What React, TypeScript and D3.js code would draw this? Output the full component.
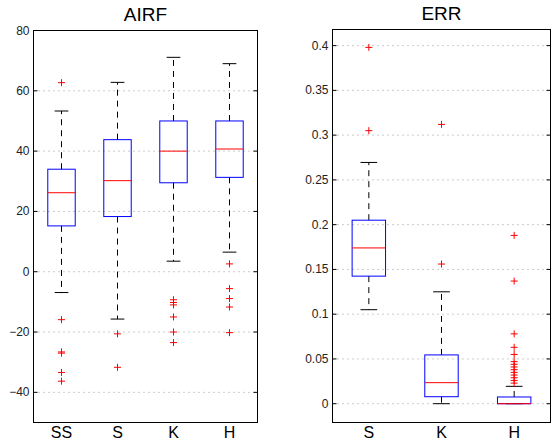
import React, {useEffect, useRef} from 'react';
import * as d3 from 'd3';

// AIRF panel values
const airfCats: string[] = ["SS", "S", "K", "H"];
const airfLow: number[] = [-6.9, -15.7, 3.5, 6.5];
const airfQ1: number[] = [15.2, 18.3, 29.5, 31.3];
const airfMed: number[] = [26.2, 30.2, 40.0, 40.7];
const airfQ3: number[] = [34.0, 43.8, 50.0, 50.0];
const airfHigh: number[] = [53.3, 62.8, 71.1, 69.0];
const airfOut: number[][] = [
  [62.7, -15.9, -26.6, -27.0, -33.4, -36.3],
  [-20.6, -31.7],
  [-9.3, -10.2, -11.0, -15.0, -20.0, -23.5],
  [2.6, -5.6, -8.9, -11.7, -20.2]
];
const airfTicks: number[] = [-40, -20, 0, 20, 40, 60, 80];

// ERR panel values
const errCats: string[] = ["S", "K", "H"];
const errLow: number[] = [0.105, 0, 0];
const errQ1: number[] = [0.1425, 0.0078, 0];
const errMed: number[] = [0.174, 0.0235, 0];
const errQ3: number[] = [0.205, 0.0545, 0.0075];
const errHigh: number[] = [0.2695, 0.125, 0.0194];
const errOut: number[][] = [
  [0.398, 0.305],
  [0.312, 0.156],
  [0.188, 0.137, 0.078, 0.063, 0.055, 0.047, 0.044, 0.041, 0.038, 0.035, 0.032, 0.029, 0.026, 0.023]
];
const errTicks: number[] = [0, 0.05, 0.1, 0.15, 0.2, 0.25, 0.3, 0.35, 0.4];

const App = () => {
  const ref = useRef<SVGSVGElement>(null);

  useEffect(() => {
    drawChart();
    return () => {
      d3.select(ref.current).selectAll("*").remove();
    };
  }, []);

  const drawChart = () => {
    const svg = d3.select(ref.current);
    const font = "'Liberation Sans', Arial, sans-serif";

    const drawPanel = (
      title: string,
      cats: string[], low: number[], q1: number[], med: number[], q3: number[], high: number[],
      outs: number[][], ticks: number[], yDomain: [number, number],
      left: number, right: number, top: number, bottom: number, boxW: number
    ) => {
      const x = d3.scaleLinear().domain([0.5, cats.length + 0.5]).range([left, right]);
      const y = d3.scaleLinear().domain(yDomain).range([bottom, top]);
      const g = svg.append("g");

      // dotted grid
      g.selectAll(".grid").data(ticks).enter().append("line")
        .attr("x1", left).attr("x2", right)
        .attr("y1", d => y(d)).attr("y2", d => y(d))
        .attr("stroke", "#999").attr("stroke-width", 1)
        .attr("stroke-dasharray", "1,4");

      // tick marks on both sides (inward)
      g.selectAll(".tl").data(ticks).enter().append("line")
        .attr("x1", left).attr("x2", left + 4)
        .attr("y1", d => y(d)).attr("y2", d => y(d))
        .attr("stroke", "#000");
      g.selectAll(".tr").data(ticks).enter().append("line")
        .attr("x1", right - 4).attr("x2", right)
        .attr("y1", d => y(d)).attr("y2", d => y(d))
        .attr("stroke", "#000");

      // tick labels
      g.selectAll(".tlab").data(ticks).enter().append("text")
        .attr("x", left - 4).attr("y", d => y(d) + 4)
        .attr("text-anchor", "end")
        .attr("font-family", font).attr("font-size", "12px")
        .attr("fill", "#222")
        .text(d => d < 0 ? "\u2212" + Math.abs(d) : String(d));

      const idx = d3.range(cats.length);
      const half = (x(1 + boxW / 2) - x(1));
      const capHalf = half / 2;

      // whiskers (dashed)
      g.selectAll(".wu").data(idx).enter().append("line")
        .attr("x1", i => x(i + 1)).attr("x2", i => x(i + 1))
        .attr("y1", i => y(q3[i])).attr("y2", i => y(high[i]))
        .attr("stroke", "#000").attr("stroke-dasharray", "6,5");
      g.selectAll(".wl").data(idx).enter().append("line")
        .attr("x1", i => x(i + 1)).attr("x2", i => x(i + 1))
        .attr("y1", i => y(q1[i])).attr("y2", i => y(low[i]))
        .attr("stroke", "#000").attr("stroke-dasharray", "6,5");

      // caps
      g.selectAll(".cu").data(idx).enter().append("line")
        .attr("x1", i => x(i + 1) - capHalf).attr("x2", i => x(i + 1) + capHalf)
        .attr("y1", i => y(high[i])).attr("y2", i => y(high[i]))
        .attr("stroke", "#000");
      g.selectAll(".cl").data(idx).enter().append("line")
        .attr("x1", i => x(i + 1) - capHalf).attr("x2", i => x(i + 1) + capHalf)
        .attr("y1", i => y(low[i])).attr("y2", i => y(low[i]))
        .attr("stroke", "#000");

      // boxes
      g.selectAll(".box").data(idx).enter().append("rect")
        .attr("x", i => x(i + 1) - half)
        .attr("width", half * 2)
        .attr("y", i => y(q3[i]))
        .attr("height", i => y(q1[i]) - y(q3[i]))
        .attr("fill", "none").attr("stroke", "#0000ff").attr("stroke-width", 1);

      // medians
      g.selectAll(".med").data(idx).enter().append("line")
        .attr("x1", i => x(i + 1) - half).attr("x2", i => x(i + 1) + half)
        .attr("y1", i => y(med[i])).attr("y2", i => y(med[i]))
        .attr("stroke", "#ff0000").attr("stroke-width", 1);

      // outliers as red plus signs
      const pts = idx.flatMap(i => outs[i].map(v => ({i, v})));
      const s = 3.5;
      g.selectAll(".out").data(pts).enter().append("path")
        .attr("d", d => {
          const cx = x(d.i + 1), cy = y(d.v);
          return `M${cx - s},${cy}H${cx + s}M${cx},${cy - s}V${cy + s}`;
        })
        .attr("stroke", "#ff0000").attr("stroke-width", 1).attr("fill", "none");

      // frame
      g.append("rect")
        .attr("x", left).attr("y", top)
        .attr("width", right - left).attr("height", bottom - top)
        .attr("fill", "none").attr("stroke", "#000").attr("stroke-width", 1);

      // category labels
      g.selectAll(".cat").data(cats).enter().append("text")
        .attr("x", (d, i) => x(i + 1)).attr("y", bottom + 15)
        .attr("text-anchor", "middle")
        .attr("font-family", font).attr("font-size", "16px")
        .attr("fill", "#000")
        .text(d => d);

      // title
      g.append("text")
        .attr("x", (left + right) / 2).attr("y", top - 10)
        .attr("text-anchor", "middle")
        .attr("font-family", font).attr("font-size", "19px")
        .attr("fill", "#000")
        .text(title);
    };

    drawPanel("AIRF", airfCats, airfLow, airfQ1, airfMed, airfQ3, airfHigh, airfOut,
      airfTicks, [-50, 80], 33.5, 257.5, 30.5, 422.5, 0.49);
    drawPanel("ERR", errCats, errLow, errQ1, errMed, errQ3, errHigh, errOut,
      errTicks, [-0.021, 0.418], 332.5, 550.5, 29.5, 422.5, 0.46);
  };

  return (
    <svg ref={ref} width={557} height={444}
      style={{position: "absolute", left: 0, top: 0, background: "#fff"}} />
  );
};

export default App;
